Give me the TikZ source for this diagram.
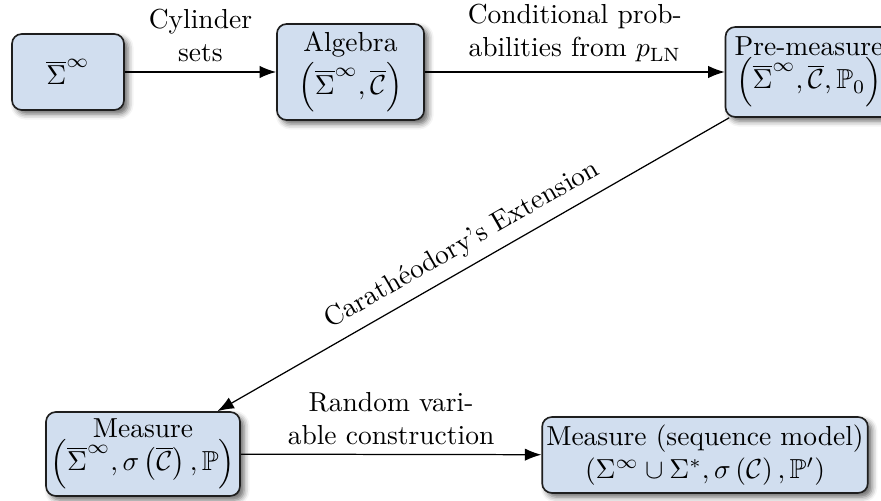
\documentclass[tikz,border=0pt]{standalone}
\usepackage{amsmath,amssymb}
\usetikzlibrary{arrows.meta,shadows.blur}
\definecolor{boxfill}{RGB}{209,222,239}
\definecolor{boxline}{RGB}{30,30,30}
\tikzset{
  stagebox/.style={draw=boxline, line width=0.6pt, fill=boxfill, rounded corners=3.5pt,
    align=center, inner sep=1.5pt,
    blur shadow={shadow xshift=1.5pt, shadow yshift=-1.5pt, shadow blur radius=2pt, shadow opacity=60}},
  conn/.style={-{Latex[length=6pt,width=4.5pt]}, line width=0.45pt},
  elabel/.style={align=center, inner sep=3.3pt}
}
\begin{document}
\begin{tikzpicture}[x=0.3636pt,y=-0.3636pt]
\useasboundingbox (0,0) rectangle (881,501);
\node[stagebox, minimum width=40.7pt, minimum height=27.6pt] (b1) at (68,72) {$\overline{\Sigma}^{\infty}$};
\node[stagebox, minimum width=53.5pt, minimum height=34.9pt] (b2) at (350.5,72)
  {Algebra\\[1pt]$\left(\overline{\Sigma}^{\infty},\overline{\mathcal{C}}\right)$};
\node[stagebox, minimum width=60.7pt, minimum height=32.7pt] (b3) at (809,72)
  {Pre-measure\\$\left(\overline{\Sigma}^{\infty},\overline{\mathcal{C}},\mathbb{P}_0\right)$};
\node[stagebox, minimum width=70.5pt, minimum height=30.5pt] (b4) at (143,454)
  {Measure\\$\left(\overline{\Sigma}^{\infty},\sigma\left(\overline{\mathcal{C}}\right),\mathbb{P}\right)$};
\node[stagebox, minimum width=117.8pt, minimum height=27.6pt] (b5) at (705,455)
  {Measure (sequence model)\\$\left(\Sigma^{\infty}\cup\Sigma^{*},\sigma\left(\mathcal{C}\right),\mathbb{P}'\right)$};
\draw[conn] (b1) -- node[elabel, above] (l1) {Cylinder\\sets} (b2);
\draw[conn] (b2) -- node[elabel, above] (l2) {Conditional prob-\\abilities from $p_{\mathrm{LN}}$} (b3);
\draw[conn] (b3) -- node[elabel, above, sloped, midway] (l3) {Carath\'eodory’s Extension} (b4);
\draw[conn] (b4) -- node[elabel, above] (l4) {Random vari-\\able construction} (b5);
\end{tikzpicture}
\end{document}
